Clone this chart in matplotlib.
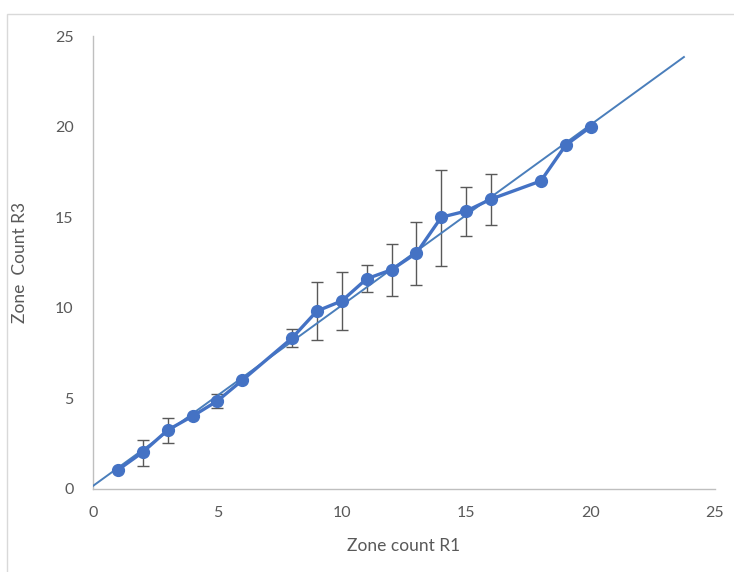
import numpy as np
import matplotlib.pyplot as plt
from matplotlib.patches import Rectangle

# zone counts R1 vs R3 (mean per zone count)
zone_r1 = [1, 2, 3, 4, 5, 6, 8, 9, 10, 11, 12, 13, 14, 15, 16, 18, 19, 20]
zone_r3 = [1.05, 2.03, 3.25, 4.02, 4.86, 6.0, 8.33, 9.82, 10.38, 11.6, 12.1,
           13.02, 15.0, 15.34, 16.0, 17.0, 18.98, 19.98]

# error bars only where there was spread
err_x = [2, 3, 5, 8, 9, 10, 11, 12, 13, 14, 15, 16]
err_y = [2.03, 3.25, 4.86, 8.33, 9.82, 10.38, 11.6, 12.1, 13.02, 15.0, 15.34, 16.0]
err_lo = [0.76, 0.71, 0.39, 0.49, 1.6, 1.6, 0.72, 1.45, 1.76, 2.7, 1.38, 1.43]
err_hi = [0.68, 0.66, 0.38, 0.5, 1.6, 1.6, 0.76, 1.42, 1.72, 2.6, 1.33, 1.38]

# linear trendline
trend_x = [0, 23.75]
trend_y = [0.17, 23.84]

blue = '#4472C4'
grey_txt = '#595959'

plt.rcParams['font.family'] = ['Lato', 'DejaVu Sans']

fig = plt.figure(figsize=(7.34, 5.72), dpi=100)
ax = fig.add_axes([93/734, 83/572, 622/734, 453/572])

ax.errorbar(err_x, err_y, yerr=[err_lo, err_hi], fmt='none', ecolor=grey_txt,
            elinewidth=1.0, capsize=4.5, capthick=1.0, zorder=2)
ax.plot(trend_x, trend_y, color='#4A7EBB', lw=1.4, zorder=3)
ax.plot(zone_r1, zone_r3, color=blue, lw=2.4, marker='o', ms=8.5, zorder=4)

ax.set_xlim(0, 25)
ax.set_ylim(0, 25)
ax.set_xticks(range(0, 26, 5))
ax.set_yticks(range(0, 26, 5))
ax.tick_params(length=0, labelsize=11.5, colors=grey_txt, pad=12)
ax.tick_params(axis='y', pad=14)

for s in ['top', 'right']:
    ax.spines[s].set_visible(False)
for s in ['left', 'bottom']:
    ax.spines[s].set_color('#BFBFBF')
    ax.spines[s].set_linewidth(1.0)

ax.set_xlabel('Zone count R1', fontsize=12.5, color=grey_txt, labelpad=13)
ax.set_ylabel('Zone  Count R3', fontsize=12.5, color=grey_txt, labelpad=19)

# chart area border
fig.add_artist(Rectangle((7/734, -0.1), 1.2, (572 - 14)/572 + 0.1,
                         transform=fig.transFigure, fill=False,
                         edgecolor='#D9D9D9', lw=1.0))

fig.savefig('out.png', dpi=100)
